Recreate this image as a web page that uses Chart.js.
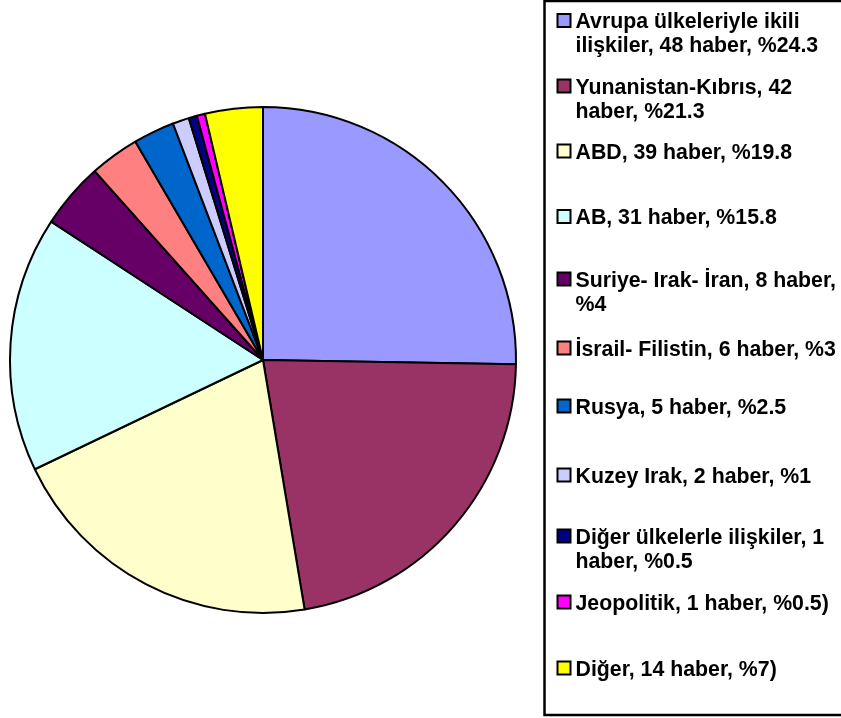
<!DOCTYPE html>
<html>
<head>
<meta charset="utf-8">
<script src="https://cdn.jsdelivr.net/npm/chart.js@4/dist/chart.umd.min.js"></script>
<style>
  html, body { margin: 0; padding: 0; background: #fff; }
  #wrap { position: relative; width: 841px; height: 718px; }
</style>
</head>
<body>
<div id="wrap"><canvas id="pieChart"></canvas></div>
<script>
// Haber konuları (legend satırları), dilim değerleri ve renkler
const labels = [
  ['Avrupa ülkeleriyle ikili', 'ilişkiler, 48 haber, %24.3'],
  ['Yunanistan-Kıbrıs, 42', 'haber, %21.3'],
  ['ABD, 39 haber, %19.8'],
  ['AB, 31 haber, %15.8'],
  ['Suriye- Irak- İran, 8 haber,', '%4'],
  ['İsrail- Filistin, 6 haber, %3'],
  ['Rusya, 5 haber, %2.5'],
  ['Kuzey Irak, 2 haber, %1'],
  ['Diğer ülkelerle ilişkiler, 1', 'haber, %0.5'],
  ['Jeopolitik, 1 haber, %0.5)'],
  ['Diğer, 14 haber, %7)']
];
// dilim büyüklükleri (Diğer dilimi ~%3.7 çizilmiş)
const dilimDegerleri = [48, 42, 39, 31, 8, 6, 5, 2, 1, 1, 7];
const colors = [
  '#9999FF', '#993366', '#FFFFCC', '#CCFFFF', '#660066', '#FF8080',
  '#0066CC', '#CCCCFF', '#000080', '#FF00FF', '#FFFF00'
];

// legend yerleşimi (sadece görünüm)
const legendY = [20.5, 86, 151, 216.5, 279, 348, 406, 475, 536, 602, 668];

const legendPlugin = {
  id: 'boxLegend',
  afterDraw(chart) {
    const ctx = chart.ctx;
    ctx.save();
    // çerçeve
    ctx.strokeStyle = '#000';
    ctx.lineWidth = 2.5;
    ctx.strokeRect(544.5, 1, 310, 714);
    ctx.font = 'bold 21.3px "Liberation Sans", Arial, sans-serif';
    ctx.textBaseline = 'alphabetic';
    labels.forEach((lines, i) => {
      const cy = legendY[i];
      ctx.fillStyle = colors[i];
      ctx.fillRect(557.5, cy - 6.5, 13, 13);
      ctx.lineWidth = 2;
      ctx.strokeStyle = '#000';
      ctx.strokeRect(557.5, cy - 6.5, 13, 13);
      ctx.fillStyle = '#000';
      lines.forEach((line, j) => {
        ctx.fillText(line, 575.5, cy + 7.5 + j * 24);
      });
    });
    ctx.restore();
  }
};

new Chart(document.getElementById('pieChart').getContext('2d'), {
  type: 'pie',
  data: {
    labels: labels.map(l => l.join(' ')),
    datasets: [{
      data: dilimDegerleri,
      backgroundColor: colors,
      borderColor: '#000',
      borderWidth: 2
    }]
  },
  options: {
    responsive: true,
    maintainAspectRatio: false,
    animation: false,
    layout: { padding: { left: 9, right: 324, top: 106, bottom: 104 } },
    plugins: {
      legend: { display: false },
      tooltip: { enabled: false }
    }
  },
  plugins: [legendPlugin]
});
</script>
</body>
</html>
